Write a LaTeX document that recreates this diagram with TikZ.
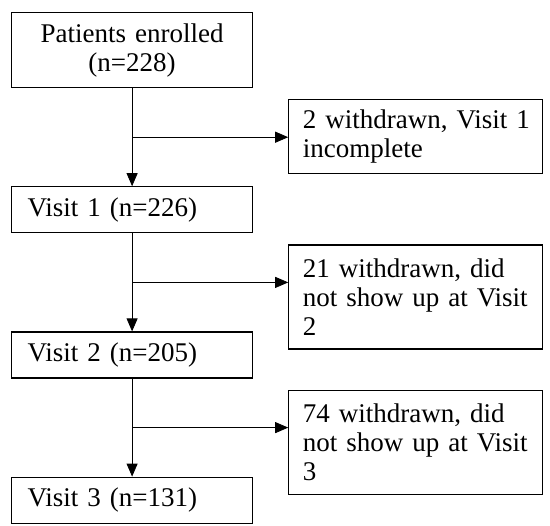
\documentclass[tikz,border=0pt]{standalone}
\usepackage{fontspec}
\setmainfont{Liberation Serif}
\usetikzlibrary{positioning, calc, arrows.meta}

\begin{document}
\begin{tikzpicture}[>={Triangle[length=6.5pt,width=5.5pt]}, node distance=49pt,
    font=\fontsize{13.5}{14.5}\selectfont]
           \tikzset{
             stage/.style={draw, line width=0.6pt, text width=104.5pt, inner xsep=8pt,
               inner ysep=3pt, minimum height=23pt, align=left},
             dropout/.style={draw, line width=0.6pt, text width=113pt, inner xsep=7pt,
               inner ysep=3pt, align=left, anchor=north west}
           }
           \useasboundingbox (0,0) rectangle (275pt,-262.5pt);
           % main flow
           \node[stage, align=center, minimum height=37.5pt, anchor=north west](enrolled) at (5.5pt,-6pt){Patients enrolled\\(n=228)};
           \node[stage](visit_1)[below=of enrolled]{Visit 1 (n=226)};
           \node[stage](visit_2)[below=of visit_1]{Visit 2 (n=205)};
           \node[stage](visit_3)[below=of visit_2]{Visit 3 (n=131)};
           % splits and withdrawals
           \coordinate (split_1) at ($(enrolled.south)!0.5!(visit_1.north)$);
           \coordinate (split_2) at ($(visit_1.south)!0.5!(visit_2.north)$);
           \coordinate (split_3) at ($(visit_2.south)!0.5!(visit_3.north)$);
           \node[dropout, minimum height=37pt](drop_1) at ($(split_1 -| enrolled.east)+(17.5pt,19pt)$){\mbox{2 withdrawn, Visit 1}\\incomplete};
           \node[dropout, minimum height=52pt](drop_2) at ($(split_2 -| visit_1.east)+(17.5pt,19pt)$){\mbox{21 withdrawn, did}\\\mbox{not show up at Visit}\\2};
           \node[dropout, minimum height=52pt](drop_3) at ($(split_3 -| visit_2.east)+(17.5pt,19pt)$){\mbox{74 withdrawn, did}\\\mbox{not show up at Visit}\\3};
           \path[->, line width=0.4pt]
           (enrolled) edge (visit_1)
           (visit_1)  edge (visit_2)
           (visit_2)  edge (visit_3)
           (split_1)  edge (split_1 -| drop_1.west)
           (split_2)  edge (split_2 -| drop_2.west)
           (split_3)  edge (split_3 -| drop_3.west);
        \end{tikzpicture}
\end{document}
